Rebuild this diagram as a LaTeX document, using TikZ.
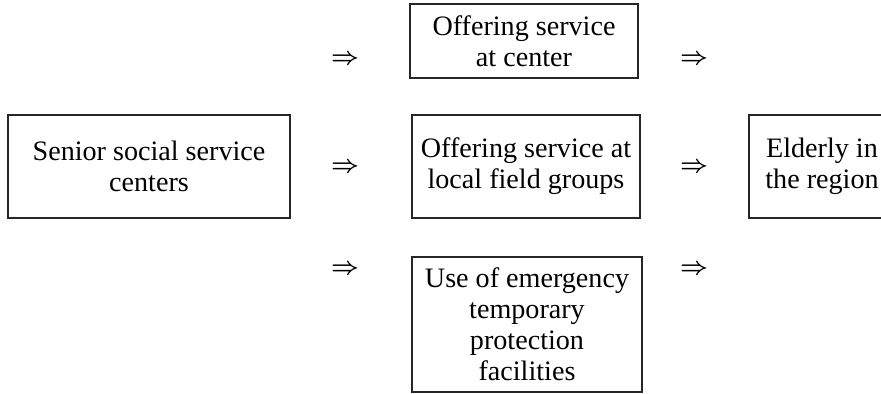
\documentclass[tikz,border=0pt]{standalone}
\usepackage{fontspec}
\usepackage{amsmath}
\setmainfont{Liberation Serif}
\usetikzlibrary{positioning}
\tikzset{
  svcbox/.style={draw=black!85, line width=1.6pt, align=center, inner sep=0pt,
    font=\fontsize{20}{22}\selectfont},
  flowarr/.style={inner sep=0pt, font=\fontsize{19}{19}\selectfont}
}

\begin{document}
\begin{tikzpicture}[x=0.025cm,y=-0.025cm]
\clip (0,0) rectangle (881,394);
% the boxes
\node[svcbox, minimum width=7.05cm, minimum height=2.575cm] (cent) at (149,166.5) {Senior social service\\centers};
\node[svcbox, minimum width=5.7cm, minimum height=1.85cm] (atcent) at (524,41) {Offering service\\at center};
\node[svcbox, minimum width=5.7cm, minimum height=2.575cm] (field) at (526,166.5) {Offering service at\\local field groups};
\node[svcbox, minimum width=5.75cm, minimum height=3.375cm] (emerg) at (527,324.5) {Use of emergency\\temporary\\protection\\facilities};
\node[svcbox, minimum width=3.65cm, minimum height=2.575cm] (elder) at (822,166.5) {Elderly in\\the region};
% the arrows
\node[flowarr] (a1) at (345,60) {$\boldsymbol{\Rightarrow}$};
\node[flowarr] (a2) at (345,168) {$\boldsymbol{\Rightarrow}$};
\node[flowarr] (a3) at (345,270) {$\boldsymbol{\Rightarrow}$};
\node[flowarr] (b1) at (694,60) {$\boldsymbol{\Rightarrow}$};
\node[flowarr] (b2) at (694,168) {$\boldsymbol{\Rightarrow}$};
\node[flowarr] (b3) at (694,270) {$\boldsymbol{\Rightarrow}$};
\end{tikzpicture}
\end{document}
